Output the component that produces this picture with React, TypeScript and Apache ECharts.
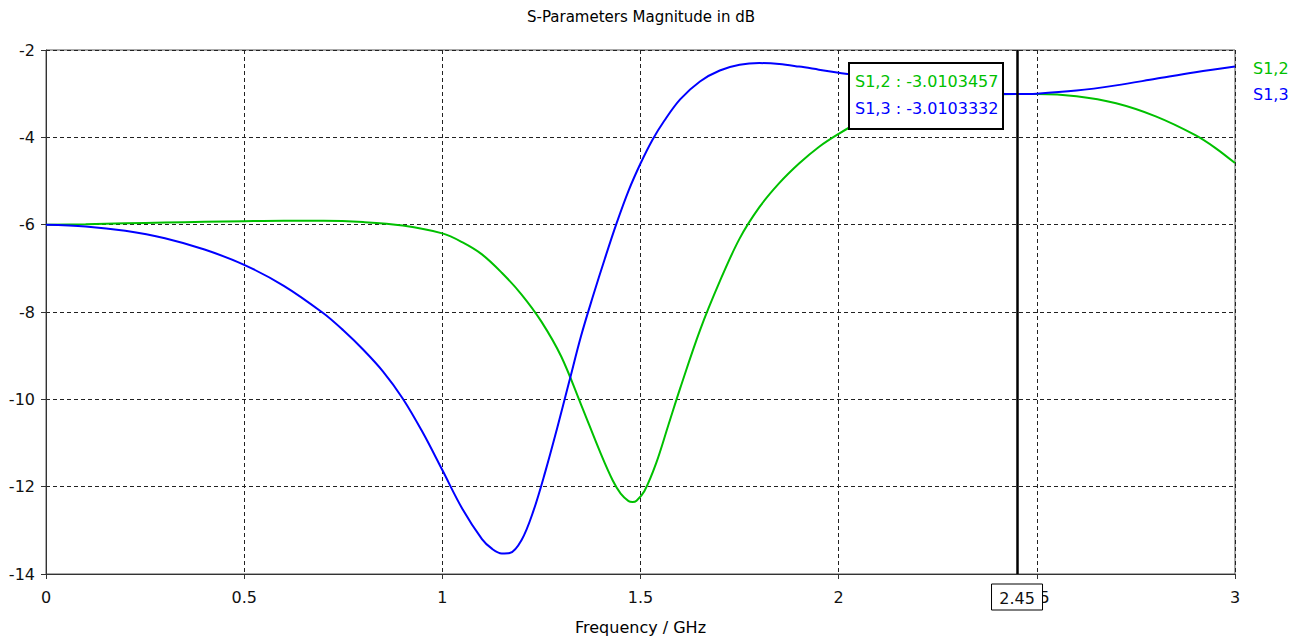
import React, { useEffect, useRef } from 'react';
import * as echarts from 'echarts';

// S1,2 (green) — frequency in GHz, magnitude in dB
const s12Freq = [0, 0.1, 0.2, 0.3, 0.4, 0.5, 0.6, 0.7, 0.8, 0.9, 1.0, 1.05, 1.1, 1.15, 1.2, 1.25, 1.3, 1.35, 1.4, 1.43, 1.45, 1.47, 1.48, 1.49, 1.51, 1.54, 1.57, 1.6, 1.65, 1.7, 1.75, 1.8, 1.85, 1.9, 1.95, 2.0, 2.05, 2.1, 2.2, 2.3, 2.4, 2.45, 2.5, 2.6, 2.7, 2.8, 2.9, 2.95, 3.0];
const s12Db = [-6.0, -5.99, -5.97, -5.95, -5.935, -5.92, -5.91, -5.91, -5.94, -6.02, -6.2, -6.4, -6.68, -7.1, -7.6, -8.22, -9.02, -10.12, -11.25, -11.86, -12.16, -12.33, -12.35, -12.32, -12.1, -11.45, -10.6, -9.75, -8.42, -7.3, -6.32, -5.6, -5.05, -4.6, -4.22, -3.92, -3.66, -3.46, -3.22, -3.08, -3.02, -3.0103, -3.01, -3.06, -3.22, -3.52, -3.95, -4.24, -4.59];

// S1,3 (blue)
const s13Freq = [0, 0.1, 0.2, 0.3, 0.4, 0.5, 0.6, 0.7, 0.75, 0.8, 0.85, 0.9, 0.95, 1.0, 1.05, 1.1, 1.125, 1.15, 1.17, 1.2, 1.23, 1.26, 1.29, 1.32, 1.35, 1.38, 1.41, 1.44, 1.47, 1.5, 1.53, 1.56, 1.6, 1.65, 1.7, 1.75, 1.8, 1.85, 1.9, 1.95, 2.0, 2.05, 2.1, 2.2, 2.3, 2.4, 2.45, 2.5, 2.6, 2.7, 2.8, 2.9, 3.0];
const s13Db = [-6.0, -6.04, -6.14, -6.31, -6.57, -6.92, -7.4, -8.03, -8.42, -8.86, -9.36, -9.98, -10.75, -11.62, -12.5, -13.2, -13.42, -13.53, -13.52, -13.22, -12.55, -11.65, -10.65, -9.6, -8.55, -7.64, -6.78, -5.96, -5.22, -4.6, -4.06, -3.62, -3.13, -2.72, -2.47, -2.34, -2.3, -2.32, -2.38, -2.45, -2.52, -2.59, -2.68, -2.83, -2.94, -3.0, -3.0103, -3.0, -2.93, -2.81, -2.66, -2.51, -2.38];

const seriesNames = ['S1,2', 'S1,3'];
const seriesColors = ['#00c000', '#0000ff'];

const xMin = 0;
const xMax = 3;
const xStep = 0.5;
const yMin = -14;
const yMax = -2;
const yStep = 2;

const markerFreq = 2.45;
const markerLabel = '2.45';
const readoutS12 = '-3.0103457';
const readoutS13 = '-3.0103332';

const titleText = 'S-Parameters Magnitude in dB';
const xAxisName = 'Frequency / GHz';

const FONT = '"DejaVu Sans", Tahoma, Verdana, sans-serif';

export default function App() {
  const ref = useRef<HTMLDivElement>(null);

  useEffect(() => {
    document.body.style.margin = '0';
    const chart = echarts.init(ref.current!, null, { renderer: 'svg' });

    const s12Data = s12Freq.map((f, i) => [f, s12Db[i]]);
    const s13Data = s13Freq.map((f, i) => [f, s13Db[i]]);

    const axisColor = '#333';
    const gridDash = { color: '#222', width: 1, type: [4, 3] as number[] };

    chart.setOption({
      animation: false,
      backgroundColor: '#fff',
      title: {
        text: titleText,
        left: 641,
        top: 9,
        textAlign: 'center',
        padding: 0,
        textStyle: { fontSize: 15, fontWeight: 'normal', fontFamily: FONT, color: '#000' },
      },
      grid: {
        left: 46,
        top: 50,
        right: 71,
        bottom: 66,
        show: true,
        borderColor: '#555',
        borderWidth: 1,
        backgroundColor: '#fff',
      },
      xAxis: {
        type: 'value',
        min: xMin,
        max: xMax,
        interval: xStep,
        name: xAxisName,
        nameLocation: 'middle',
        nameGap: 45,
        nameTextStyle: { fontSize: 16, color: '#000', fontFamily: FONT },
        axisLine: { show: true, onZero: false, lineStyle: { color: axisColor, width: 1 } },
        axisTick: { show: true, inside: false, length: 5, lineStyle: { color: axisColor } },
        axisLabel: { show: true, margin: 15, fontSize: 16, color: '#111', fontFamily: FONT },
        splitLine: { show: true, lineStyle: gridDash },
      },
      yAxis: {
        type: 'value',
        min: yMin,
        max: yMax,
        interval: yStep,
        axisLine: { show: true, onZero: false, lineStyle: { color: axisColor, width: 1 } },
        axisTick: { show: true, inside: false, length: 5, lineStyle: { color: axisColor } },
        axisLabel: { show: true, margin: 11, fontSize: 16, color: '#111', fontFamily: FONT },
        splitLine: { show: true, lineStyle: gridDash },
      },
      series: [
        {
          name: seriesNames[0],
          type: 'line',
          data: s12Data,
          showSymbol: false,
          symbol: 'none',
          smooth: 0.35,
          lineStyle: { color: seriesColors[0], width: 2 },
          itemStyle: { color: seriesColors[0] },
          z: 3,
        },
        {
          name: seriesNames[1],
          type: 'line',
          data: s13Data,
          showSymbol: false,
          symbol: 'none',
          smooth: 0.35,
          lineStyle: { color: seriesColors[1], width: 2 },
          itemStyle: { color: seriesColors[1] },
          z: 4,
          markLine: {
            silent: true,
            symbol: ['none', 'none'],
            label: { show: false },
            lineStyle: { color: '#000', width: 2.5, type: 'solid' },
            data: [{ xAxis: markerFreq }],
            z: 5,
          },
        },
      ],
    });

    const [mx, my] = chart.convertToPixel({ gridIndex: 0 }, [markerFreq, yMin]) as number[];
    const boxW = 51;
    const boxH = 26;

    chart.setOption({
      graphic: [
        {
          type: 'group',
          x: mx,
          y: my + 10,
          z: 100,
          children: [
            {
              type: 'rect',
              shape: { x: -boxW / 2, y: 0, width: boxW, height: boxH },
              style: { fill: '#fff', stroke: '#000', lineWidth: 1 },
              z: 100,
            },
            {
              type: 'text',
              x: 0,
              y: boxH / 2 + 1,
              z: 101,
              style: {
                text: markerLabel,
                fill: '#111',
                font: `16px ${FONT}`,
                align: 'center',
                verticalAlign: 'middle',
              },
            },
          ],
        },
        {
          type: 'group',
          x: 849,
          y: 63,
          z: 100,
          children: [
            {
              type: 'rect',
              shape: { x: 0, y: 0, width: 154, height: 66 },
              style: { fill: '#fff', stroke: '#000', lineWidth: 2 },
              z: 100,
            },
            {
              type: 'text',
              x: 6,
              y: 18,
              z: 101,
              style: {
                text: `${seriesNames[0]} : ${readoutS12}`,
                fill: seriesColors[0],
                font: `16px ${FONT}`,
                align: 'left',
                verticalAlign: 'middle',
              },
            },
            {
              type: 'text',
              x: 6,
              y: 45,
              z: 101,
              style: {
                text: `${seriesNames[1]} : ${readoutS13}`,
                fill: seriesColors[1],
                font: `16px ${FONT}`,
                align: 'left',
                verticalAlign: 'middle',
              },
            },
          ],
        },
        {
          type: 'text',
          x: 1253,
          y: 68,
          z: 100,
          style: {
            text: seriesNames[0],
            fill: seriesColors[0],
            font: `16px ${FONT}`,
            align: 'left',
            verticalAlign: 'middle',
          },
        },
        {
          type: 'text',
          x: 1253,
          y: 94,
          z: 100,
          style: {
            text: seriesNames[1],
            fill: seriesColors[1],
            font: `16px ${FONT}`,
            align: 'left',
            verticalAlign: 'middle',
          },
        },
      ],
    });

    return () => chart.dispose();
  }, []);

  return <div ref={ref} style={{ width: 1306, height: 640 }} />;
}
